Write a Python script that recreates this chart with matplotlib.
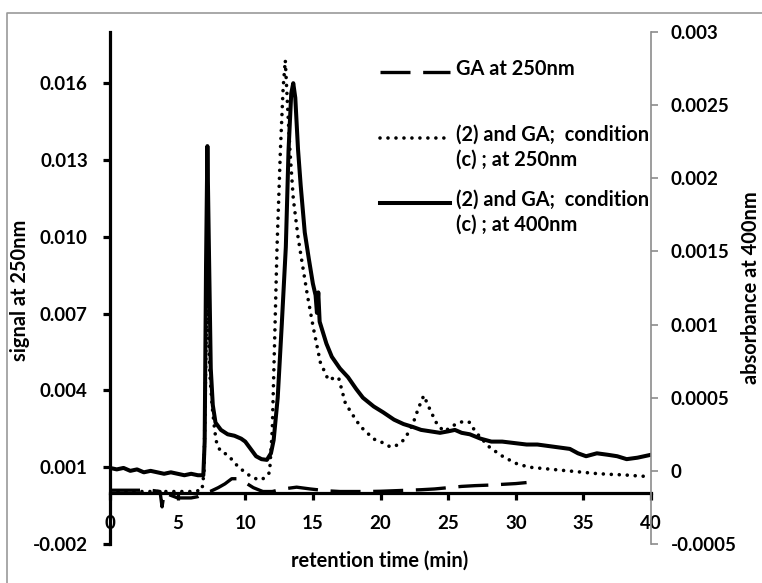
import matplotlib
matplotlib.use("Agg")
import matplotlib.pyplot as plt
from matplotlib.lines import Line2D
import numpy as np

plt.rcParams['font.family'] = ['Lato', 'DejaVu Sans']

# (2) and GA; condition (c); at 400nm  -> right axis (absorbance)
t400 = [0, 0.5, 1, 1.5, 2, 2.5, 3, 3.5, 4, 4.5, 5, 5.5, 6, 6.5, 6.9, 7.0, 7.1, 7.2,
        7.3, 7.45, 7.6, 7.8, 8.2, 8.7, 9.2, 9.7, 10.0, 10.4, 10.8, 11.2, 11.6, 11.9,
        12.1, 12.4, 12.7, 13.0, 13.2, 13.4, 13.55, 13.7, 13.9, 14.1, 14.4, 14.7, 15.0,
        15.2, 15.3, 15.4, 15.5, 15.7, 16.0, 16.4, 17.0, 17.6, 18.2, 18.7, 19.5, 20.2,
        21.0, 21.7, 22.4, 23.0, 23.7, 24.4, 25.0, 25.5, 26.0, 26.6, 27.4, 28.2, 29.0,
        29.9, 30.8, 31.6, 32.4, 33.2, 34.0, 34.6, 35.2, 36.0, 36.8, 37.5, 38.2, 39.0,
        39.5, 40.0]
a400 = [0.2, 0.1, 0.2, 0.0, 0.1, -0.1, 0.0, -0.1, -0.2, -0.1, -0.2, -0.3, -0.2, -0.3,
        -0.3, 2.0, 14, 22.2, 16, 7, 4.5, 3.3, 2.8, 2.5, 2.4, 2.2, 2.0, 1.5, 1.0, 0.8,
        0.75, 1.2, 2.1, 5, 10, 15.3, 21.9, 25.8, 26.5, 25.5, 22, 19.5, 16.3, 14.5, 12.8,
        12.0, 10.8, 12.2, 10.2, 9.6, 8.7, 7.8, 7.0, 6.4, 5.6, 5.0, 4.4, 4.0, 3.5, 3.2,
        3.0, 2.8, 2.7, 2.6, 2.7, 2.8, 2.6, 2.5, 2.2, 2.0, 2.0, 1.9, 1.8, 1.8, 1.7, 1.6,
        1.5, 1.2, 1.0, 1.2, 1.1, 1.0, 0.8, 0.9, 1.0, 1.1]  # x 1e-4

# (2) and GA; condition (c); at 250nm -> left axis
t250 = [0, 2, 4, 6, 6.8, 6.95, 7.05, 7.15, 7.25, 7.4, 7.55, 7.75, 7.9, 8.2, 8.65, 9.1,
        9.5, 10.0, 10.5, 11.1, 11.5, 11.8, 12.0, 12.2, 12.35, 12.6, 12.8, 12.96, 13.1,
        13.3, 13.55, 13.9, 14.2, 14.6, 15.05, 15.55, 16.15, 16.6, 16.9, 17.4, 18.0, 18.5,
        19.5, 20.0, 20.7, 21.0, 21.5, 21.85, 22.4, 22.8, 23.2, 23.7, 24.2, 24.7, 25.2,
        25.6, 26.2, 26.6, 27.0, 27.5, 28.1, 29.1, 30.1, 31, 32, 33, 34, 35, 36, 37, 38,
        39, 40]
s250 = [0.05, 0.05, 0.05, 0.05, 0.1, 0.8, 4.0, 7.5, 6.5, 4.5, 3.4, 2.4, 1.9, 1.6, 1.5,
        1.25, 1.0, 0.8, 0.6, 0.5, 0.6, 0.8, 2.5, 6.5, 9.6, 13.4, 15.8, 16.9, 15.4, 13.4,
        11.5, 10.0, 9.0, 7.7, 6.4, 5.1, 4.4, 4.5, 4.5, 3.5, 3.0, 2.6, 2.1, 2.0, 1.8, 1.8,
        1.95, 2.15, 2.7, 3.3, 3.8, 3.2, 2.66, 2.4, 2.55, 2.7, 2.8, 2.75, 2.4, 2.1, 1.76,
        1.4, 1.13, 1.0, 0.95, 0.9, 0.85, 0.8, 0.75, 0.72, 0.7, 0.66, 0.63]  # x 1e-3

# GA at 250nm -> left axis
tga = [0, 1, 2, 3, 3.7, 3.85, 4.0, 4.5, 5.0, 5.5, 6.0, 6.5, 7.0, 7.4, 8.0, 8.5, 9.0,
       9.5, 10.0, 10.6, 11.3, 12.0, 12.8, 13.8, 14.8, 16.0, 17.0, 18.0, 19.0, 20.0,
       21.0, 22.0, 23.0, 24.0, 25.0, 26.0, 27.0, 28.0, 29.0, 30.0, 30.8]
sga = [0.1, 0.1, 0.1, 0.1, 0.05, -0.55, 0.0, -0.1, -0.2, -0.2, -0.2, -0.15, 0.0, 0.05,
       0.2, 0.35, 0.55, 0.55, 0.4, 0.2, 0.05, 0.05, 0.15, 0.22, 0.15, 0.08, 0.05, 0.05,
       0.05, 0.06, 0.08, 0.1, 0.12, 0.15, 0.2, 0.25, 0.28, 0.3, 0.33, 0.36, 0.4]  # x 1e-3

left_ticks = [-0.002, 0.001, 0.004, 0.007, 0.010, 0.013, 0.016]
right_ticks = [-0.0005, 0, 0.0005, 0.001, 0.0015, 0.002, 0.0025, 0.003]
right_labels = ['-0.0005', '0', '0.0005', '0.001', '0.0015', '0.002', '0.0025', '0.003']
x_ticks = [0, 5, 10, 15, 20, 25, 30, 35, 40]

labels = ['GA at 250nm', '(2) and GA;  condition\n(c) ; at 250nm',
          '(2) and GA;  condition\n(c) ; at 400nm']

fig = plt.figure(figsize=(7.62, 5.83), dpi=100)
ax1 = fig.add_axes([110 / 762, 1 - 544 / 583, 541 / 762, 512 / 583])
ax2 = ax1.twinx()

lw = 2.4
ax1.plot(tga, np.array(sga) * 1e-3, color='black', lw=lw, dashes=(9, 3.8),
         dash_capstyle='butt')
ax1.plot(t250, np.array(s250) * 1e-3, color='black', lw=2.6, dashes=(0.01, 2.2),
         dash_capstyle='round')
ax2.plot(t400, np.array(a400) * 1e-4, color='black', lw=2.9, solid_joinstyle='round')

ax1.set_xlim(0, 40)
ax1.set_ylim(-0.002, 0.018)
ax2.set_ylim(-0.0005, 0.003)

tick_font = dict(fontsize=13.5, fontweight='bold')
text_size = 14.4

ax1.spines['top'].set_visible(False)
ax1.spines['right'].set_visible(False)
ax1.spines['left'].set_linewidth(2.3)
ax1.spines['bottom'].set_linewidth(2.3)
ax1.spines['bottom'].set_position(('data', 0))
ax1.set_yticks(left_ticks)
ax1.set_yticklabels(['%.3f' % v for v in left_ticks], **tick_font)
ax1.set_xticks(x_ticks)
ax1.set_xticklabels([str(v) for v in x_ticks], **tick_font)
ax1.tick_params(axis='y', direction='out', length=5, width=2.3, pad=11)
ax1.tick_params(axis='x', direction='out', length=5, width=2.3, pad=11)

for s in ['top', 'left', 'bottom']:
    ax2.spines[s].set_visible(False)
ax2.spines['right'].set_color('#8c8c8c')
ax2.spines['right'].set_linewidth(1.2)
ax2.set_yticks(right_ticks)
ax2.set_yticklabels(right_labels, **tick_font)
ax2.tick_params(axis='y', direction='out', length=5, width=1.2, color='#8c8c8c', pad=9)

# legend drawn by hand so each handle sits on the first line of its label
leg_y = [0.922, 0.793, 0.666]
leg_styles = [dict(dashes=(9, 3.8), lw=lw), dict(dashes=(0.01, 2.2), lw=2.6,
              dash_capstyle='round'), dict(lw=2.9)]
for yy, lab, st in zip(leg_y, labels, leg_styles):
    ax2.add_line(Line2D([0.499, 0.628], [yy, yy], color='black',
                        transform=ax2.transAxes, clip_on=False, **st))
    ax2.text(0.64, yy + 0.026, lab, transform=ax2.transAxes, ha='left', va='top',
             fontsize=text_size, fontweight='bold', linespacing=1.33)

fig.text(380 / 762, 1 - 561 / 583, 'retention time (min)', ha='center', va='center',
         fontsize=text_size, fontweight='bold')
fig.text(20 / 762, 1 - 290 / 583, 'signal at 250nm', rotation=90, ha='center',
         va='center', fontsize=text_size, fontweight='bold')
fig.text(751 / 762, 1 - 288 / 583, 'absorbance at 400nm', rotation=90, ha='center',
         va='center', fontsize=text_size, fontweight='bold')

# outer chart border
fig.add_artist(Line2D([7 / 762, 7 / 762, 1], [0, 1 - 13 / 583, 1 - 13 / 583],
                      color='#9a9a9a', lw=1.2, transform=fig.transFigure))

fig.savefig('out.png', dpi=100)
